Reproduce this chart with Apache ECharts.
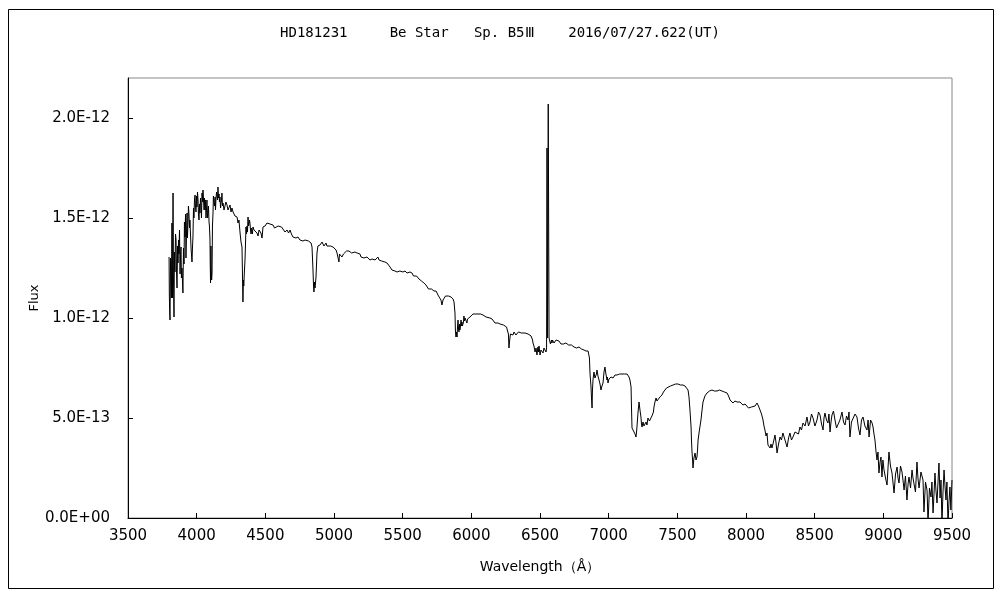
<!DOCTYPE html>
<html>
<head>
<meta charset="utf-8">
<script src="https://cdn.jsdelivr.net/npm/echarts@6/dist/echarts.min.js"></script>
<style>html,body{margin:0;padding:0;background:#fff}#c{width:1000px;height:600px}</style>
</head>
<body>
<div id="c"></div>
<script>
// Flux values are in units of 1E-13 (erg/s/cm2/Å), wavelength in Å
const spectrumBlue = [[3799,13.05],[3801,11.2],[3803,10.4],[3806,9.9],[3810,13.0],[3813,12.25],[3816,11.0],[3820,14.75],[3824,11.0],[3828,16.25],[3831,12.0],[3835,10.05],[3838,13.3],[3842,12.3],[3846,14.2],[3850,13.9],[3853,12.4],[3857,11.5],[3861,13.6],[3864,12.75],[3868,13.9],[3871,13.2],[3875,14.4],[3879,12.2],[3882,13.0],[3886,13.55],[3889,12.0],[3893,12.5],[3897,11.8],[3900,11.25],[3904,13.5],[3908,12.7],[3911,14.8],[3915,14.05],[3919,15.2],[3922,13.0],[3926,14.2],[3930,15.25],[3933,14.0],[3937,14.75],[3940,15.6],[3944,15.2],[3948,14.5],[3951,14.9],[3955,14.2],[3959,13.5],[3962,13.2],[3966,12.8],[3970,13.6],[3973,14.05],[3977,15.5],[3980,15.0],[3984,15.9],[3988,16.15],[3991,15.6],[3995,15.3],[3999,16.1],[4002,15.55],[4006,16.3],[4010,15.9],[4013,15.2],[4017,14.9],[4021,15.7],[4024,15.25],[4028,16.0],[4032,15.6],[4035,15.0],[4039,16.25],[4043,15.8],[4046,16.4],[4050,15.9],[4054,15.4],[4057,16.0],[4061,15.4],[4064,15.9],[4068,15.0],[4072,15.5],[4075,15.9],[4079,15.0],[4083,15.3],[4086,15.6],[4090,14.8],[4093,14.6],[4097,13.9],[4099,12.6],[4101,11.75],[4104,13.6],[4106,12.5],[4109,11.9],[4112,12.25],[4115,14.6],[4119,15.25],[4122,16.1],[4126,15.8],[4130,15.6],[4134,16.05],[4137,15.4],[4141,16.0],[4145,16.3],[4148,16.4],[4152,15.9],[4155,16.55],[4159,16.0],[4163,16.2],[4166,15.8],[4170,16.05],[4174,15.5],[4177,15.7],[4181,15.9],[4184,16.25],[4188,15.6],[4192,15.75],[4199,15.4],[4206,15.6],[4213,15.8],[4221,15.65],[4228,15.4],[4235,15.5],[4243,15.65],[4250,15.3],[4257,15.5],[4265,15.3],[4272,15.35],[4279,15.1],[4287,15.2],[4294,15.05],[4301,14.75],[4308,14.9],[4316,14.25],[4323,13.8],[4330,13.55],[4334,12.0],[4337,10.8],[4340,11.9],[4343,11.6],[4348,12.4],[4352,12.9],[4356,13.8],[4359,14.55],[4363,14.2],[4367,14.6],[4370,14.3],[4374,15.05],[4378,14.6],[4381,14.5],[4385,14.9],[4388,14.75],[4392,14.4],[4396,14.2],[4399,14.5],[4403,14.4],[4406,14.2],[4410,14.55],[4418,14.4],[4425,14.3],[4432,14.45],[4439,14.25],[4447,14.1],[4454,14.4],[4461,14.4],[4468,14.25],[4476,14.0],[4483,14.55],[4490,14.5],[4498,14.6],[4505,14.55],[4512,14.75],[4523,14.65],[4534,14.7],[4545,14.6],[4556,14.65],[4567,14.5],[4578,14.55],[4593,14.6],[4607,14.5],[4618,14.55],[4629,14.45],[4643,14.3],[4658,14.4],[4669,14.25],[4680,14.4],[4690,14.2],[4701,14.05],[4712,14.1],[4723,14.0],[4738,14.05],[4745,13.95],[4752,13.9],[4763,13.95],[4774,13.85],[4789,13.9],[4803,13.8],[4814,13.85],[4825,13.75],[4833,13.75],[4840,13.55]];
const spectrumGreen = [[4847,12.4],[4851,11.6],[4854,11.3],[4858,11.8],[4862,11.5],[4869,12.05],[4876,13.25],[4883,13.6],[4891,13.5],[4898,13.65],[4905,13.6],[4913,13.8],[4920,13.75],[4927,13.6],[4935,13.55],[4942,13.75],[4949,13.6],[4956,13.5],[4963,13.7],[4974,13.6],[4985,13.65],[4993,13.55],[5000,13.5],[5007,13.5],[5015,13.4],[5022,13.25],[5029,13.15],[5036,12.8],[5040,13.2],[5044,13.1],[5051,13.25],[5058,13.05],[5069,13.2],[5080,13.25],[5091,13.35],[5102,13.3],[5109,13.35],[5117,13.3],[5128,13.25],[5139,13.3],[5153,13.3],[5168,13.25],[5175,13.15],[5182,13.3],[5189,13.2],[5197,13.05],[5207,13.1],[5218,13.0],[5229,13.1],[5240,13.05],[5251,12.95],[5262,12.9],[5270,13.0],[5277,12.95],[5288,12.85],[5299,12.9],[5310,12.85],[5320,13.05],[5328,12.9],[5335,12.8],[5346,12.85],[5357,12.75],[5371,12.8],[5386,12.75],[5397,12.65],[5408,12.55],[5415,12.45],[5422,12.4],[5433,12.4],[5444,12.35],[5451,12.4],[5459,12.3],[5470,12.3],[5480,12.35],[5491,12.3],[5502,12.3],[5510,12.25],[5517,12.35],[5524,12.3],[5532,12.25],[5542,12.2],[5553,12.3],[5561,12.2],[5568,12.25],[5579,12.1],[5590,12.05],[5601,12.1],[5612,12.0],[5619,11.95],[5626,11.9],[5637,11.85],[5648,11.8],[5655,11.75],[5662,11.7],[5670,11.65],[5677,11.55],[5688,11.45],[5699,11.4],[5710,11.45],[5721,11.4],[5728,11.35],[5736,11.3],[5743,11.35],[5750,11.25],[5761,11.1],[5772,11.0],[5779,10.9],[5786,10.65],[5794,10.9],[5801,11.0],[5812,11.1],[5823,11.05],[5834,11.1],[5845,11.0],[5852,11.05],[5859,11.0],[5867,10.95],[5874,10.8],[5881,10.25],[5884,9.4],[5888,9.05],[5892,9.3],[5896,9.05],[5899,9.5],[5903,9.9],[5906,9.5],[5910,9.3],[5914,9.7],[5917,9.4],[5921,9.6],[5925,9.9],[5928,9.6],[5932,9.8],[5935,9.6],[5939,9.5],[5943,9.8],[5946,10.1],[5950,9.85],[5954,10.0],[5961,9.9],[5968,9.75],[5972,9.95],[5976,9.9],[5983,10.0],[5990,10.05],[6001,10.15],[6012,10.2],[6023,10.25],[6030,10.2],[6038,10.25],[6049,10.2],[6060,10.15],[6067,10.2],[6074,10.1],[6085,10.15],[6096,10.1],[6107,10.05],[6114,10.1],[6121,10.05],[6136,10.0],[6151,9.95],[6161,9.85],[6172,9.75],[6183,9.7],[6194,9.75],[6209,9.7],[6223,9.65],[6234,9.65],[6245,9.6],[6256,9.55],[6267,9.5],[6270,9.2],[6274,8.5],[6278,8.8],[6281,9.0],[6285,9.2],[6289,9.25],[6296,9.1],[6303,9.15],[6311,9.3],[6318,9.2],[6325,9.15],[6333,9.25],[6343,9.3],[6354,9.2],[6365,9.25],[6376,9.3],[6391,9.25],[6402,9.15],[6413,9.2],[6424,9.15],[6435,9.1],[6442,9.05],[6446,8.9],[6449,8.75],[6456,8.6],[6464,8.3],[6471,8.5],[6478,8.15],[6482,8.4],[6485,8.55],[6489,8.3],[6493,8.6],[6500,8.15],[6507,8.4],[6515,8.5],[6518,8.3],[6522,8.25],[6529,8.5],[6536,8.55],[6544,8.3],[6548,8.5]];
const spectrumHalpha = [[6551,18.5],[6555,9.0],[6560,20.7],[6566,9.0]];
const spectrumRed = [[6573,9.0],[6576,8.7],[6580,8.8],[6584,8.9],[6587,8.75],[6591,8.9],[6595,8.85],[6602,8.75],[6609,8.8],[6617,8.9],[6624,8.85],[6631,8.8],[6638,8.85],[6646,8.75],[6653,8.7],[6660,8.8],[6671,8.7],[6682,8.65],[6689,8.75],[6697,8.7],[6708,8.65],[6718,8.6],[6729,8.65],[6740,8.6],[6748,8.55],[6755,8.55],[6766,8.5],[6777,8.5],[6784,8.55],[6791,8.5],[6802,8.45],[6813,8.45],[6820,8.4],[6828,8.4],[6835,8.35],[6842,8.3],[6850,8.35],[6857,8.25],[6860,8.0],[6864,7.25],[6871,6.6],[6875,6.0],[6879,5.5],[6882,6.4],[6886,6.9],[6889,7.1],[6893,7.3],[6900,7.0],[6908,6.9],[6911,7.2],[6915,7.4],[6922,7.1],[6930,6.9],[6937,6.7],[6944,6.4],[6951,6.6],[6959,6.75],[6966,7.3],[6973,7.55],[6980,7.2],[6988,6.9],[6991,7.05],[6995,6.75],[7002,6.95],[7010,6.9],[7017,7.05],[7024,6.95],[7032,7.0],[7046,7.15],[7054,7.1],[7061,7.15],[7079,7.2],[7097,7.2],[7115,7.2],[7134,7.2],[7141,7.15],[7148,7.05],[7155,6.9],[7163,6.55],[7166,5.6],[7170,4.5],[7177,4.6],[7184,4.4],[7192,4.2],[7199,4.05],[7203,4.3],[7206,4.55],[7214,5.3],[7221,5.8],[7228,5.4],[7235,5.05],[7239,4.7],[7243,4.55],[7250,4.8],[7257,4.6],[7265,4.5],[7272,4.8],[7279,4.65],[7286,5.0],[7297,4.85],[7308,4.75],[7315,5.1],[7323,5.05],[7326,5.3],[7330,5.55],[7337,5.8],[7345,6.0],[7352,5.85],[7359,5.9],[7373,6.05],[7388,6.15],[7399,6.3],[7410,6.4],[7421,6.5],[7432,6.55],[7450,6.6],[7469,6.65],[7487,6.7],[7505,6.7],[7523,6.65],[7541,6.65],[7556,6.6],[7570,6.55],[7578,6.4],[7585,6.05],[7592,5.4],[7600,4.55],[7603,3.9],[7607,3.3],[7611,2.9],[7614,2.5],[7621,3.0],[7629,3.25],[7636,2.9],[7643,3.05],[7647,3.4],[7651,3.9],[7661,4.4],[7672,4.9],[7680,5.4],[7687,5.8],[7701,6.1],[7716,6.25],[7734,6.35],[7752,6.4],[7770,6.35],[7789,6.35],[7807,6.4],[7825,6.35],[7843,6.3],[7862,6.25],[7873,6.1],[7884,5.9],[7895,5.85],[7905,5.75],[7920,5.85],[7935,5.8],[7945,5.7],[7956,5.8],[7967,5.7],[7978,5.65],[7993,5.7],[8007,5.65],[8018,5.5],[8029,5.4],[8040,5.55],[8051,5.5],[8066,5.6],[8080,5.75],[8091,5.6],[8102,5.4]];
const spectrumNIR = [[8113,5.2],[8124,4.9],[8131,4.6],[8138,4.4],[8146,4.1],[8153,4.25],[8157,3.9],[8160,3.65],[8168,3.55],[8175,3.5],[8182,3.7],[8189,3.5],[8200,3.8],[8211,4.15],[8218,3.8],[8226,3.25],[8237,3.7],[8248,4.05],[8258,3.9],[8269,4.25],[8284,3.9],[8299,3.55],[8310,4.0],[8320,4.25],[8331,3.9],[8342,4.05],[8357,4.3],[8371,4.4],[8382,4.2],[8393,4.55],[8404,4.4],[8415,4.75],[8430,4.6],[8444,5.05],[8455,4.6],[8466,4.8],[8477,5.2],[8488,5.0],[8502,4.6],[8517,4.9],[8528,5.3],[8539,5.15],[8550,4.7],[8561,4.4],[8568,5.0],[8575,5.25],[8586,4.9],[8597,4.75],[8604,5.2],[8612,4.3],[8619,4.8],[8626,5.15],[8637,5.35],[8648,4.9],[8659,4.5],[8670,4.55],[8684,4.9],[8699,5.3],[8710,4.8],[8721,4.65],[8732,5.1],[8743,4.9],[8750,5.3],[8757,4.05],[8768,4.8],[8779,4.75],[8794,5.2],[8808,5.05],[8819,4.5],[8830,4.15],[8841,4.9],[8852,5.05],[8866,4.6],[8881,4.4],[8889,4.9],[8896,4.05],[8907,4.9],[8918,4.75],[8925,4.55],[8932,4.2],[8939,3.9],[8947,3.3],[8954,2.9],[8961,3.3],[8968,2.25],[8976,2.8],[8983,3.05],[8990,2.05],[8997,2.9],[9005,2.4],[9016,2.0],[9027,1.65],[9034,2.5],[9041,3.3],[9052,2.6],[9063,2.25],[9070,1.8],[9078,1.25],[9089,2.2],[9100,2.55],[9107,2.0],[9114,1.75],[9125,2.6],[9136,2.3],[9143,1.9],[9151,1.4],[9161,2.1],[9172,0.9],[9180,1.7],[9187,2.05],[9198,1.5],[9209,2.4],[9216,2.0],[9223,1.9],[9234,1.3],[9245,2.8],[9252,2.0],[9260,1.5],[9274,2.3],[9289,1.9],[9292,1.2],[9296,0.3],[9307,1.8],[9318,1.4],[9322,0.6],[9325,-0.3],[9336,1.5],[9347,1.05],[9354,1.8],[9362,0.25],[9369,1.2],[9376,2.25],[9383,1.4],[9391,0.75],[9398,1.8],[9405,2.75],[9413,1.0],[9420,1.9],[9427,-0.3],[9434,1.2],[9442,2.4],[9449,1.6],[9456,0.9],[9463,1.8],[9471,-0.3],[9478,0.8],[9485,1.55],[9492,0.4],[9500,1.9]];

const yTickValues = [0, 5, 10, 15, 20];
const yTickLabels = ['0.0E+00', '5.0E-13', '1.0E-12', '1.5E-12', '2.0E-12'];
const xTickValues = [3500, 4000, 4500, 5000, 5500, 6000, 6500, 7000, 7500, 8000, 8500, 9000, 9500];
const titleText = 'HD181231     Be Star   Sp. B5\u2162    2016/07/27.622(UT)';

const spectrum = [].concat(spectrumBlue, spectrumGreen, spectrumHalpha, spectrumRed, spectrumNIR);

const chart = echarts.init(document.getElementById('c'), null, {renderer: 'canvas'});
const labelFont = {color: '#000', fontFamily: 'DejaVu Sans', fontSize: 15};
chart.setOption({
  animation: false,
  backgroundColor: '#fff',
  title: {
    text: titleText, left: 'center', top: 21,
    textStyle: {fontFamily: 'DejaVu Sans Mono', fontSize: 14, fontWeight: 'normal', color: '#000'}
  },
  graphic: [{
    type: 'rect', silent: true,
    shape: {x: 8.5, y: 9.5, width: 985, height: 579},
    style: {fill: 'none', stroke: '#000', lineWidth: 1}
  }],
  grid: {left: 128, right: 48, top: 78, bottom: 82, show: true, borderColor: '#888', borderWidth: 1, backgroundColor: 'transparent'},
  xAxis: {
    type: 'value', min: 3500, max: 9500, interval: 500,
    name: 'Wavelength（Å）', nameLocation: 'middle', nameGap: 42, nameMoveOverlap: false,
    nameTextStyle: {fontFamily: 'DejaVu Sans', fontSize: 14, color: '#000'},
    axisLine: {show: true, onZero: false, lineStyle: {color: '#000', width: 1}},
    axisTick: {show: true, inside: true, length: 5, lineStyle: {color: '#000'}},
    axisLabel: Object.assign({
      margin: 11,
      formatter: function (v) { return xTickValues.indexOf(v) >= 0 ? String(v) : ''; }
    }, labelFont),
    splitLine: {show: false}
  },
  yAxis: {
    type: 'value', min: 0, max: 22, interval: 5,
    name: 'Flux', nameLocation: 'middle', nameGap: 87, nameRotate: 90, nameMoveOverlap: false,
    nameTextStyle: {fontFamily: 'DejaVu Sans', fontSize: 13, color: '#000'},
    axisLine: {show: true, lineStyle: {color: '#000', width: 1}},
    axisTick: {show: true, inside: true, length: 5, lineStyle: {color: '#000'}, customValues: yTickValues},
    axisLabel: Object.assign({
      margin: 18,
      customValues: yTickValues,
      formatter: function (v) {
        const i = yTickValues.indexOf(v);
        return i >= 0 ? yTickLabels[i] : '';
      }
    }, labelFont),
    splitLine: {show: false}
  },
  series: [{
    type: 'line', data: spectrum, showSymbol: false, symbol: 'none', clip: true,
    lineStyle: {color: '#000', width: 1}
  }]
});
</script>
</body>
</html>
